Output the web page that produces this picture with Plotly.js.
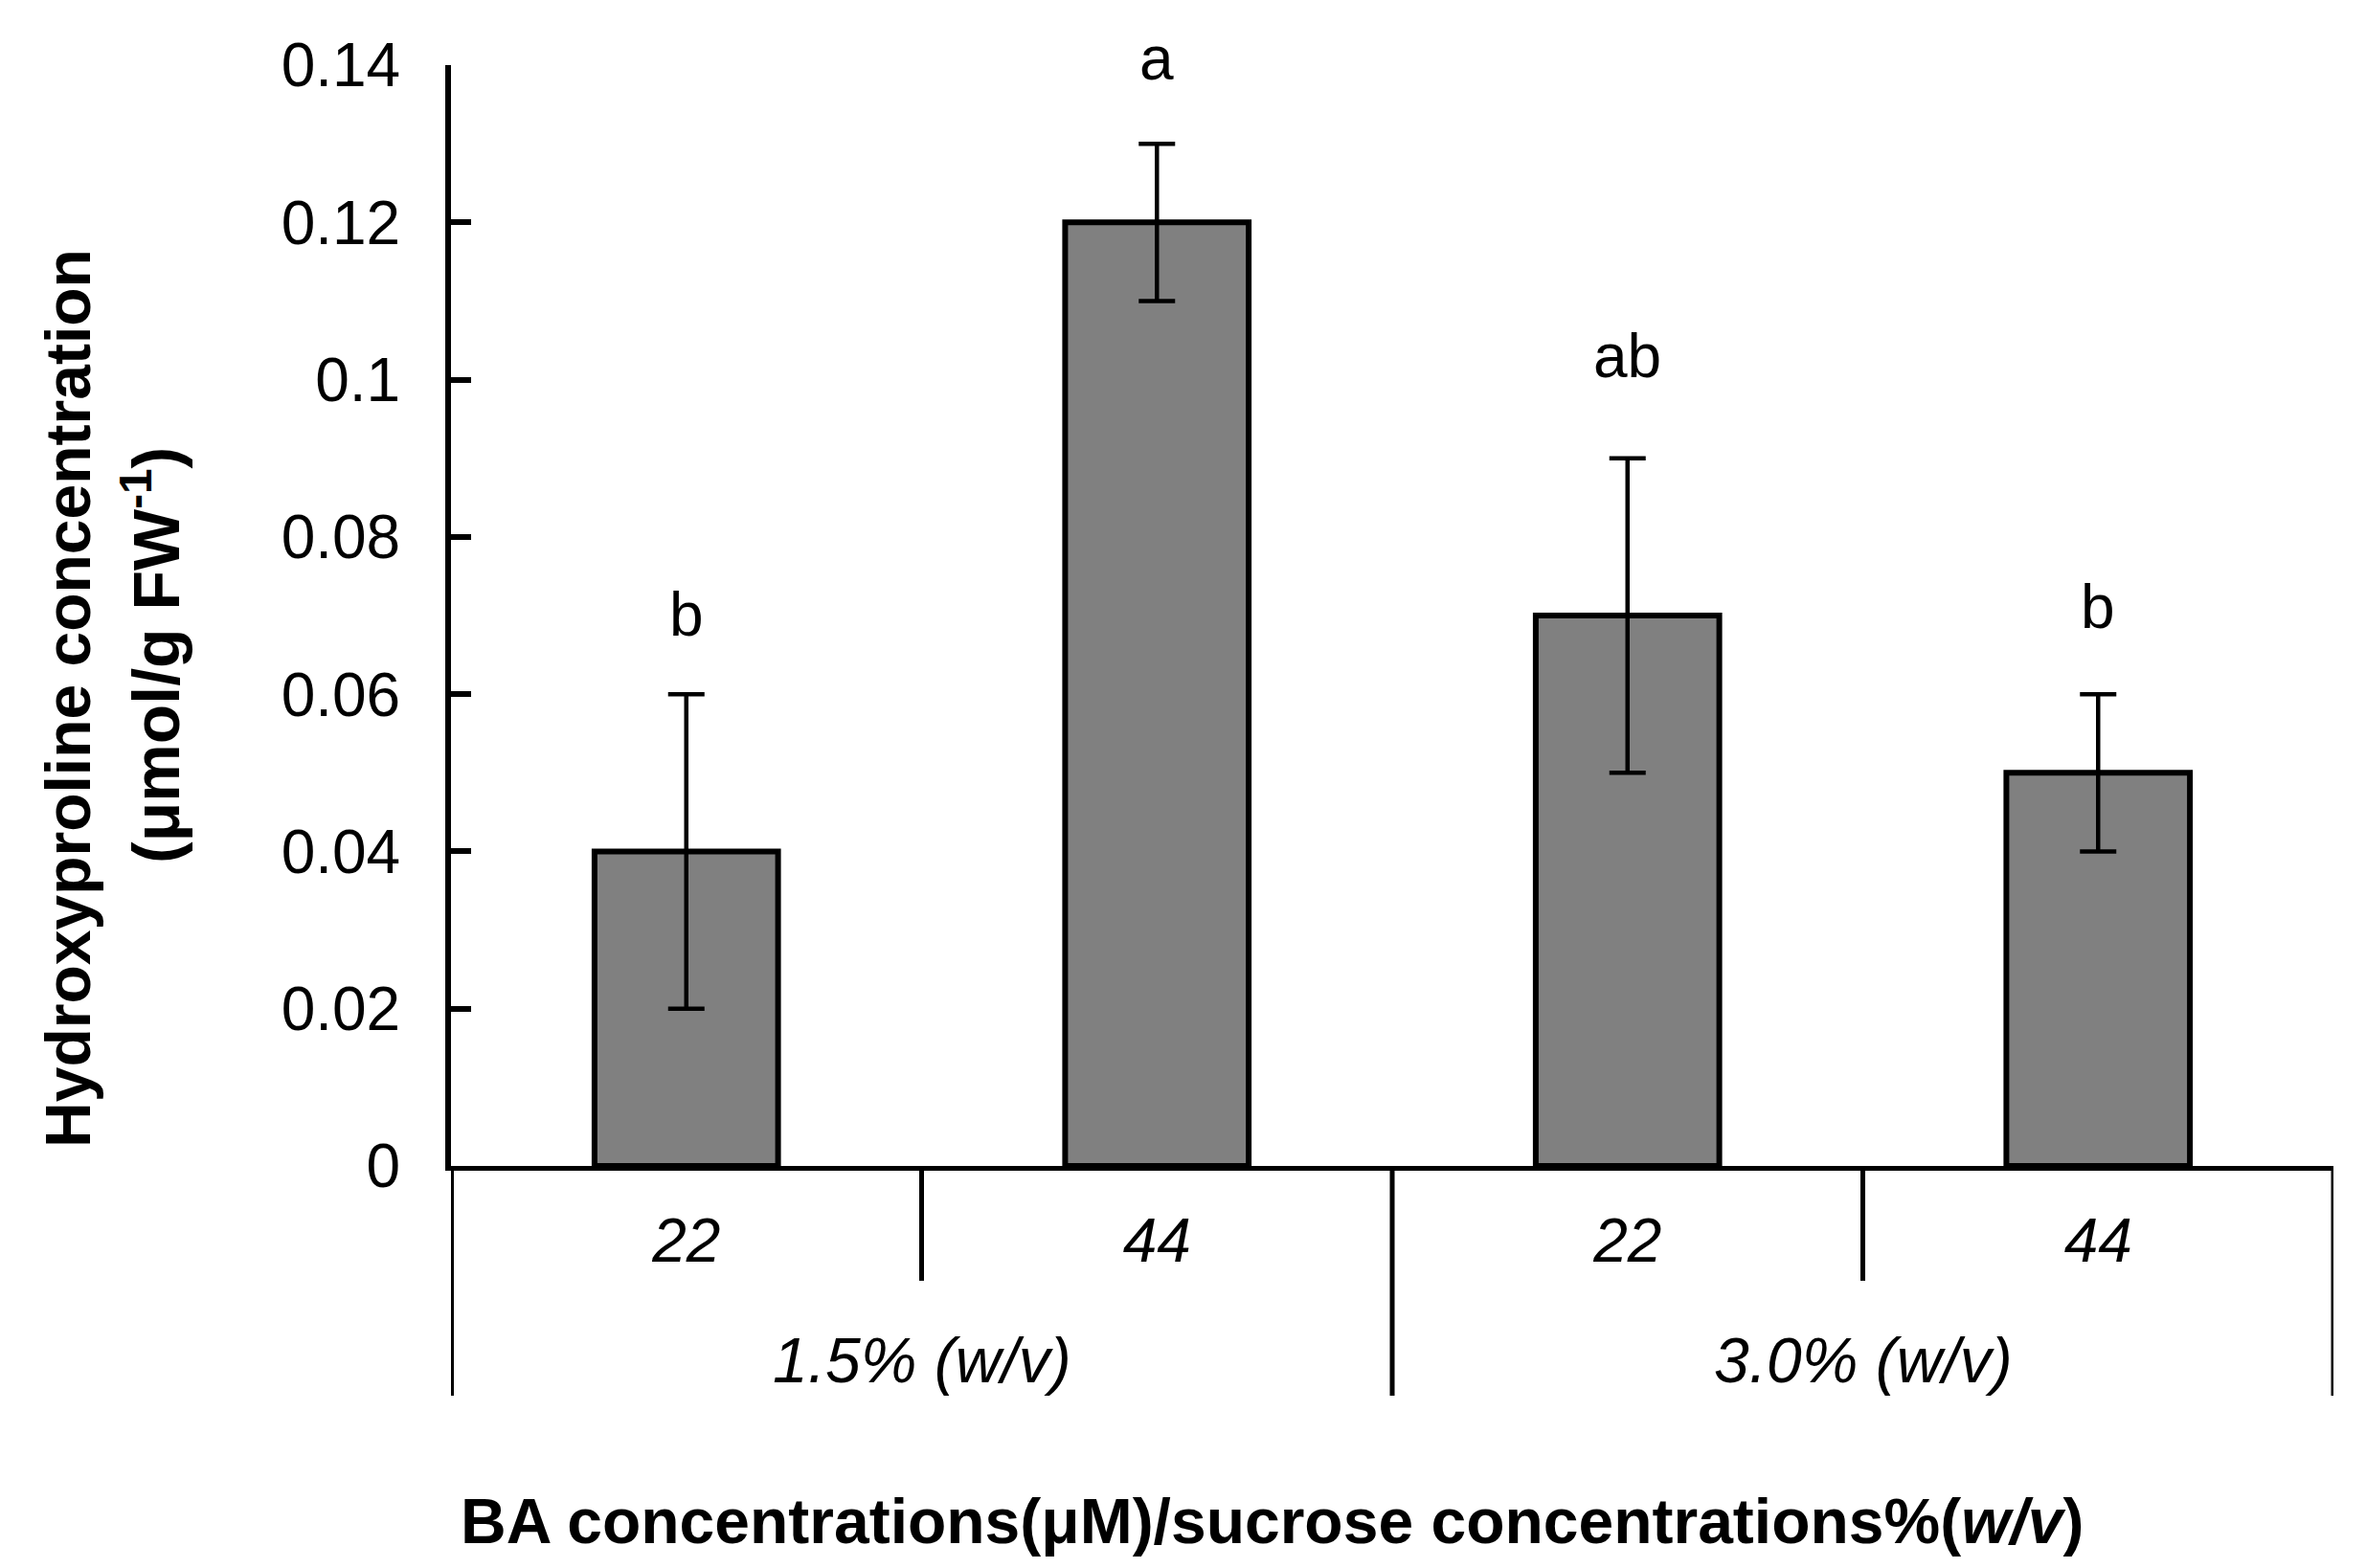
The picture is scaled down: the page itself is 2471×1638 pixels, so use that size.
<!DOCTYPE html>
<html>
<head>
<meta charset="utf-8">
<script src="https://cdn.plot.ly/plotly-3.0.1.min.js"></script>
<style>html,body{margin:0;padding:0;background:#fff;}#chart{width:2471px;height:1638px;}</style>
</head>
<body>
<div id="chart"></div>
<script>
// ---- data ----
const baConc = ['22', '44', '22', '44'];              // BA concentrations (µM)
const sucroseGroups = ['1.5% (w/v)', '3.0% (w/v)'];   // sucrose concentrations
const hydroxyproline = [0.04, 0.12, 0.07, 0.05];      // µmol/g FW-1
const stdErr = [0.02, 0.01, 0.02, 0.01];
const sigLetters = ['b', 'a', 'ab', 'b'];

// ---- drawing ----
const FONT = 'Liberation Sans, Arial, Helvetica, sans-serif';
const xIdx = baConc.map((_, i) => i);

const trace = {
  type: 'bar',
  x: xIdx,
  y: hydroxyproline,
  width: 0.39,
  marker: {color: '#808080', line: {color: '#000', width: 6}},
  error_y: {type: 'data', array: stdErr, visible: true, color: '#000', thickness: 4.5, width: 19},
  hoverinfo: 'skip'
};

const letterGap = [61, 67, 85, 69]; // px from error-bar top to text box bottom
const annotations = sigLetters.map((t, i) => ({
  x: i, y: hydroxyproline[i] + stdErr[i], xref: 'x', yref: 'y',
  text: t, showarrow: false, xanchor: 'center', yanchor: 'bottom',
  yshift: letterGap[i] - 16,
  font: {family: FONT, size: 64, color: '#000'}
}));

sucroseGroups.forEach((g, gi) => {
  annotations.push({
    x: gi * 2 + 0.5, y: -0.1765, xref: 'x', yref: 'paper',
    text: '<i>' + g + '</i>', showarrow: false, xanchor: 'center', yanchor: 'middle',
    font: {family: FONT, size: 66, color: '#000'}
  });
});

annotations.push({
  x: 0.4364, y: -0.3226, xref: 'paper', yref: 'paper',
  text: '<b>BA concentrations(μM)/sucrose concentrations%(<i>w/v</i>)</b>',
  showarrow: false, xanchor: 'center', yanchor: 'middle',
  font: {family: FONT, size: 66, color: '#000'}
});
annotations.push({
  x: -0.2035, y: 0.4252, xref: 'paper', yref: 'paper',
  text: '<b>Hydroxyproline concentration</b>', textangle: -90,
  showarrow: false, xanchor: 'center', yanchor: 'middle',
  font: {family: FONT, size: 66, color: '#000'}
});
annotations.push({
  x: -0.1592, y: 0.4635, xref: 'paper', yref: 'paper',
  text: '<b>(μmol/g FW<sup>-1</sup>)</b>', textangle: -90,
  showarrow: false, xanchor: 'center', yanchor: 'middle',
  font: {family: FONT, size: 68, color: '#000'}
});

// divider lines below the axis
const shapes = [];
[[-0.5, -0.2087], [0.5, -0.1043], [1.5, -0.2087], [2.5, -0.1043], [3.5, -0.2087]].forEach(([xv, yb]) => {
  shapes.push({type: 'line', xref: 'x', yref: 'paper', x0: xv, x1: xv, y0: 0, y1: yb,
    line: {color: '#000', width: xv === -0.5 ? 6 : 5}});
});

const layout = {
  width: 2471, height: 1638,
  margin: {l: 471, r: 34, t: 68, b: 420, pad: 0},
  paper_bgcolor: '#fff', plot_bgcolor: '#fff',
  showlegend: false,
  font: {family: FONT, size: 64, color: '#000'},
  xaxis: {
    range: [-0.5, 3.5], tickvals: xIdx, ticktext: baConc,
    showgrid: false, zeroline: false, showline: true, linecolor: '#000', linewidth: 5,
    ticks: '', tickfont: {family: FONT, size: 64, color: '#000', style: 'italic'},
    ticklabelstandoff: 18, fixedrange: true
  },
  yaxis: {
    range: [0, 0.14], dtick: 0.02, tick0: 0,
    showgrid: false, zeroline: false, showline: true, linecolor: '#000', linewidth: 6,
    ticks: 'inside', ticklen: 21, tickwidth: 6, tickcolor: '#000',
    tickfont: {family: FONT, size: 64, color: '#000'},
    ticklabelstandoff: 34, fixedrange: true
  },
  annotations: annotations,
  shapes: shapes
};

Plotly.newPlot('chart', [trace], layout, {displayModeBar: false, staticPlot: true});
</script>
</body>
</html>
